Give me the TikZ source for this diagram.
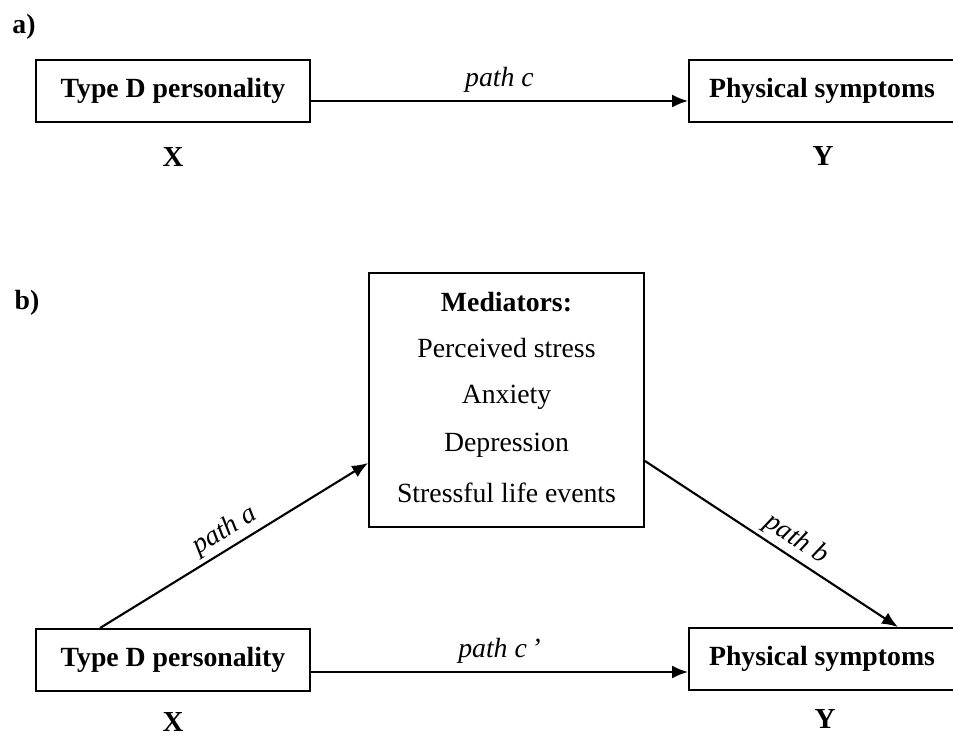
\documentclass[tikz,border=0pt]{standalone}
\usepackage{fontspec}
\setmainfont{Liberation Serif}
\usetikzlibrary{arrows.meta,positioning,calc}

\begin{document}
\begin{tikzpicture}[
    x=0.02cm, y=-0.02cm,
    box/.style={draw, line width=1.1pt, align=center, minimum height=1.24cm, inner sep=0pt, font=\fontsize{15.8}{19}\selectfont\bfseries},
    arrow/.style={-{Latex[length=3.2mm, width=2.6mm]}, line width=1.2pt},
    lab/.style={font=\fontsize{15.8}{19}\selectfont\itshape},
    txt/.style={font=\fontsize{15.8}{19}\selectfont},
    tag/.style={font=\fontsize{15.8}{19}\selectfont\bfseries},
    var/.style={font=\fontsize{16.5}{19}\selectfont\bfseries}
  ]
    \useasboundingbox (0,0) rectangle (953,736);
    \clip (0,0) rectangle (953,736);

    % a) total effect
    \node[tag] (tagA) at (24,27) {a)};
    \node[box, minimum width=5.48cm] (typeA) at (173,91) {Type D personality};
    \node[box, minimum width=5.32cm] (physA) at (822,91) {Physical symptoms};
    \node[var] (xA) at (173,157) {X};
    \node[var] (yA) at (823,156) {Y};

    \draw[arrow] ([yshift=-0.2cm]typeA.east) -- node[lab, above, yshift=1pt] (pathc) {path c} ([yshift=-0.2cm]physA.west);

    % b) mediation model
    \node[tag] (tagB) at (27,303) {b)};
    \node[box, minimum width=5.5cm, minimum height=5.08cm] (med) at (506.5,400) {};
    \node[tag] (medT) at (506.5,302) {Mediators:};
    \node[txt] (med1) at (506.5,348) {Perceived stress};
    \node[txt] (med2) at (506.5,397) {Anxiety};
    \node[txt] (med3) at (506.5,445) {Depression};
    \node[txt] (med4) at (506.5,493) {Stressful life events};

    \node[box, minimum width=5.48cm] (typeB) at (173,660) {Type D personality};
    \node[box, minimum width=5.32cm] (physB) at (822,659) {Physical symptoms};
    \node[var] (xB) at (173,722) {X};
    \node[var] (yB) at (825,719) {Y};

    \draw[arrow] ([xshift=-1.46cm]typeB.north) -- node[lab, midway, above, sloped, inner sep=2pt] (patha) {path a} ([yshift=-1.26cm]med.west);
    \draw[arrow] ([yshift=-1.22cm]med.east) -- node[lab, pos=0.56, above, sloped, inner sep=2pt] (pathb) {path b} ([xshift=1.52cm]physB.north);
    \draw[arrow] ([yshift=-0.24cm]typeB.east) -- node[lab, above, yshift=1pt] (pathcc) {path c\,’} ([yshift=-0.24cm]typeB.east -| physB.west);
  \end{tikzpicture}
\end{document}
